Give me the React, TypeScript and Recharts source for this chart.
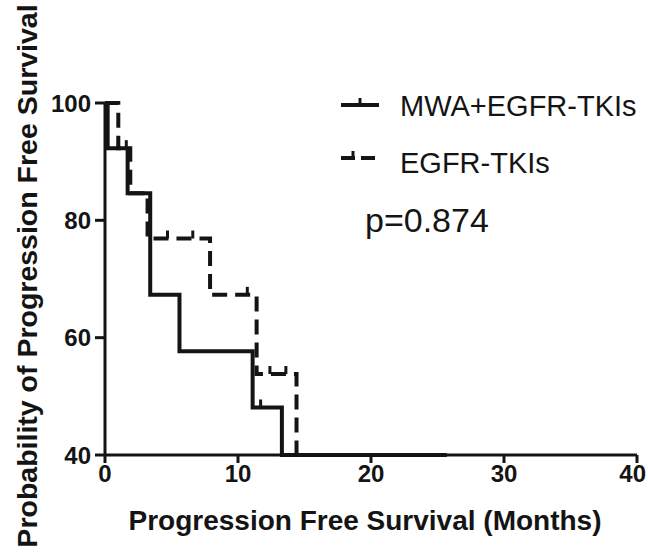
import React from "react";
import { ComposedChart, Line, Scatter, XAxis, YAxis, Label } from "recharts";

// Kaplan-Meier step curves (months, % progression free)
const mwaTimes = [0, 0.2, 1.7, 3.4, 5.6, 11.1, 13.3, 25.7];
const mwaSurv = [100, 92.3, 84.6, 67.3, 57.7, 48.1, 40, 40];

const tkiTimes = [0, 1.0, 1.9, 3.2, 7.9, 11.4, 14.4];
const tkiSurv = [100, 92.3, 84.6, 76.9, 67.3, 53.8, 40];

// censored observations (tick marks)
const mwaCensorTimes = [1.0, 1.6, 11.7];
const mwaCensorSurv = [92.3, 92.3, 48.1];
const tkiCensorTimes = [4.7, 6.6, 10.7, 12.4, 13.6];
const tkiCensorSurv = [76.9, 76.9, 67.3, 53.8, 53.8];

const xTicks = [0, 10, 20, 30, 40];
const yTicks = [40, 60, 80, 100];

const seriesNames = ["MWA+EGFR-TKIs", "EGFR-TKIs"];
const pValueText = "p=0.874";

const FONT = "'Liberation Sans', Arial, sans-serif";
const INK = "#141414";
const DASH = "15 8";

const zip = (xs: number[], ys: number[]) => xs.map((x, i) => ({ x, y: ys[i] }));

const mwaData = zip(mwaTimes, mwaSurv);
const tkiData = zip(tkiTimes, tkiSurv);
const mwaCensor = zip(mwaCensorTimes, mwaCensorSurv);
const tkiCensor = zip(tkiCensorTimes, tkiCensorSurv);

const CensorTick = (props: any) => {
  const { cx, cy } = props;
  if (cx == null || cy == null) return null;
  return <line x1={cx} x2={cx} y1={cy} y2={cy - 8} stroke={INK} strokeWidth={3} />;
};

const XTick = (props: any) => {
  const { x, y, payload } = props;
  // last label sits at the right edge of the figure, keep it inside
  const last = payload.value === xTicks[xTicks.length - 1];
  return (
    <text
      x={last ? 646 : x}
      y={y}
      dy={17}
      textAnchor={last ? "end" : "middle"}
      fontFamily={FONT}
      fontWeight="bold"
      fontSize={24}
      fill={INK}
    >
      {payload.value}
    </text>
  );
};

const YTick = (props: any) => {
  const { x, y, payload } = props;
  return (
    <text x={x} y={y} dy={8.5} textAnchor="end" fontFamily={FONT} fontWeight="bold" fontSize={24} fill={INK}>
      {payload.value}
    </text>
  );
};

const YTitle = () => (
  <text
    transform="translate(37,276) rotate(-90)"
    textAnchor="middle"
    fontFamily={FONT}
    fontWeight="bold"
    fontSize={28.5}
    fill={INK}
  >
    Probability of Progression Free Survival
  </text>
);

const XTitle = () => (
  <text x={365} y={530} textAnchor="middle" fontFamily={FONT} fontWeight="bold" fontSize={28} fill={INK}>
    Progression Free Survival (Months)
  </text>
);

export default function App() {
  return (
    <div style={{ position: "absolute", left: 0, top: 0, width: 648, height: 552, background: "#fff" }}>
      <ComposedChart width={648} height={552} margin={{ top: 103, right: 11, bottom: 0, left: 0 }}>
        <XAxis
          dataKey="x"
          type="number"
          domain={[0, 40]}
          ticks={xTicks}
          height={97}
          tick={<XTick />}
          tickSize={8}
          tickMargin={2}
          axisLine={{ stroke: INK, strokeWidth: 3 }}
          tickLine={{ stroke: INK, strokeWidth: 3 }}
        >
          <Label content={() => <XTitle />} />
        </XAxis>
        <YAxis
          dataKey="y"
          type="number"
          domain={[40, 100]}
          ticks={yTicks}
          width={105}
          tick={<YTick />}
          tickSize={10}
          tickMargin={4}
          axisLine={{ stroke: INK, strokeWidth: 3 }}
          tickLine={{ stroke: INK, strokeWidth: 3 }}
        >
          <Label content={() => <YTitle />} />
        </YAxis>
        <Line
          data={mwaData}
          dataKey="y"
          type="stepAfter"
          stroke={INK}
          strokeWidth={4}
          dot={false}
          activeDot={false}
          isAnimationActive={false}
        />
        <Line
          data={tkiData}
          dataKey="y"
          type="stepAfter"
          stroke={INK}
          strokeWidth={4}
          strokeDasharray={DASH}
          dot={false}
          activeDot={false}
          isAnimationActive={false}
        />
        <Scatter data={mwaCensor} dataKey="y" shape={CensorTick} isAnimationActive={false} />
        <Scatter data={tkiCensor} dataKey="y" shape={CensorTick} isAnimationActive={false} />
      </ComposedChart>

      {/* legend + p value */}
      <div style={{ position: "absolute", left: 0, top: 0, pointerEvents: "none" }}>
        <svg width={648} height={552} style={{ position: "absolute", left: 0, top: 0 }}>
          <line x1={341} x2={379} y1={105} y2={105} stroke={INK} strokeWidth={4} />
          <line x1={360} x2={360} y1={105} y2={98} stroke={INK} strokeWidth={3} />
          <text x={400} y={116} fontFamily={FONT} fontSize={29} fill={INK}>
            {seriesNames[0]}
          </text>
          <line x1={341} x2={379} y1={158} y2={158} stroke={INK} strokeWidth={4} strokeDasharray="14 6" />
          <line x1={353} x2={353} y1={158} y2={151} stroke={INK} strokeWidth={3} />
          <text x={400} y={173} fontFamily={FONT} fontSize={29} fill={INK}>
            {seriesNames[1]}
          </text>
          <text x={365} y={232} fontFamily={FONT} fontSize={34} fill={INK}>
            {pValueText}
          </text>
        </svg>
      </div>
    </div>
  );
}
